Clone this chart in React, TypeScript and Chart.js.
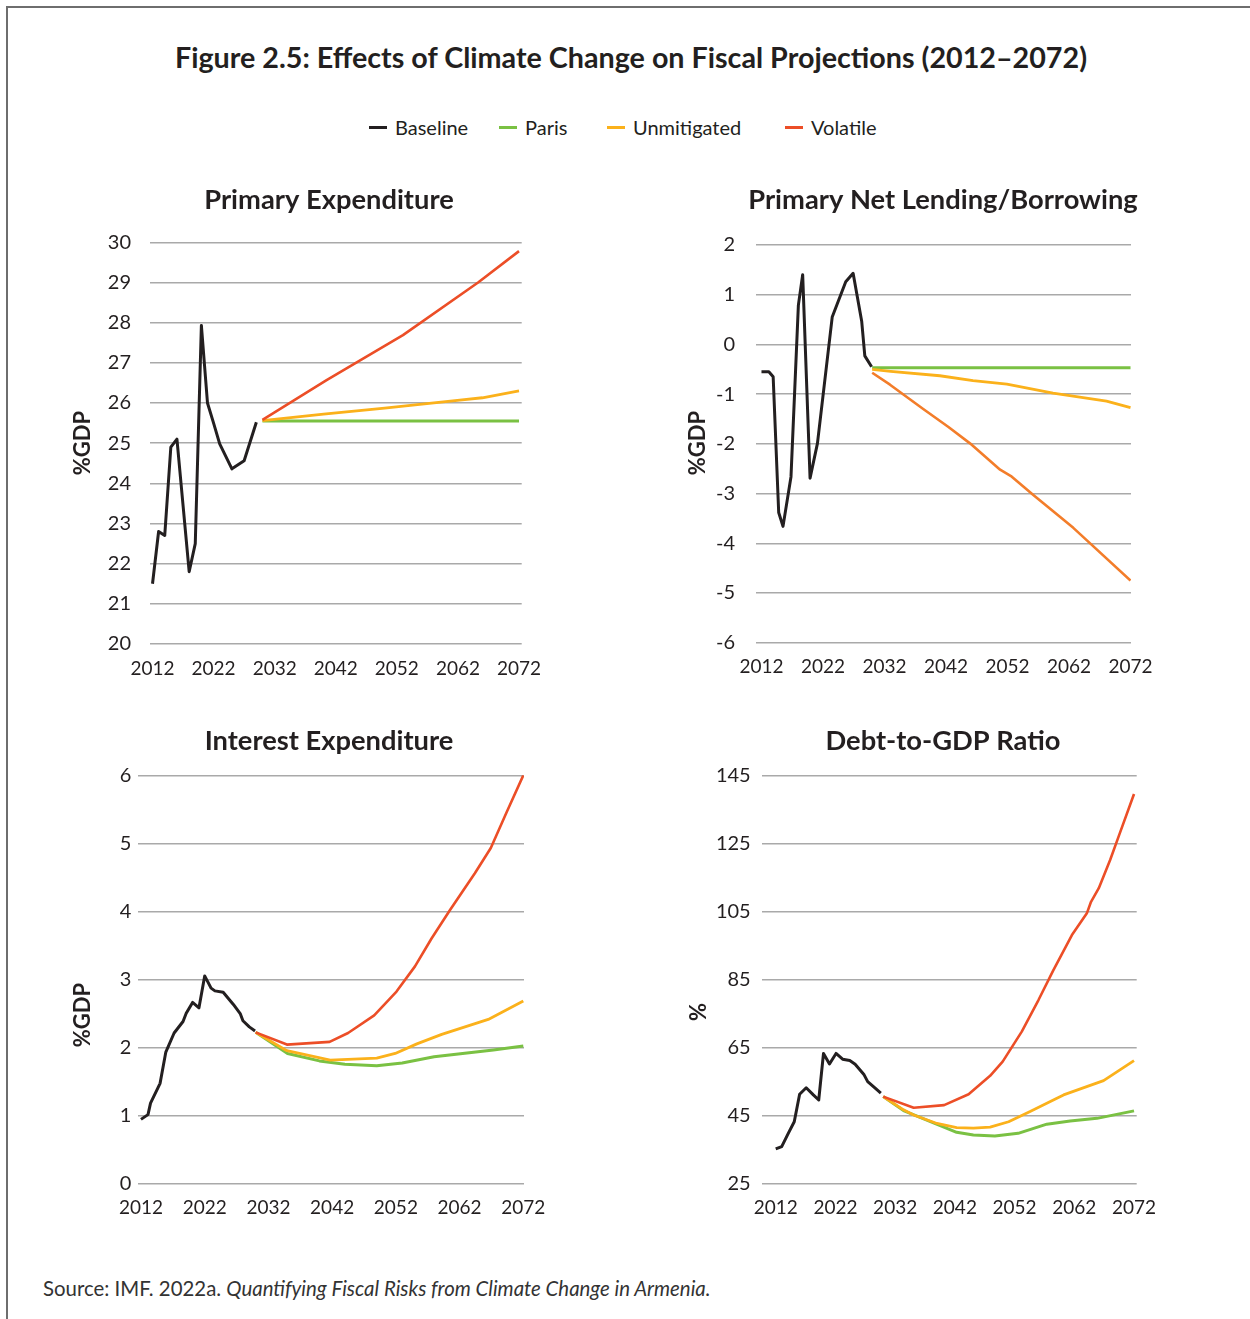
import { useEffect, useRef } from "react";
import { Chart, registerables } from "chart.js";

Chart.register(...registerables);

const FONT = "Lato, 'Open Sans', sans-serif";
const INK = "#231f20";
const GRID = "#a9a9a9";

const BLACK = "#231f20";
const GREEN = "#7ac143";
const YELLOW = "#fbb11b";
const RED = "#ec4e27";
const ORANGE = "#f37d2a";

const xTickYears = [2012, 2022, 2032, 2042, 2052, 2062, 2072];

// ---- Primary Expenditure (%GDP) ----
const peBaselineYears = [2012, 2013, 2014, 2015, 2016, 2017, 2018, 2019, 2020, 2021, 2022, 2023, 2024, 2025, 2026, 2027, 2028, 2029];
const peBaseline = [21.5, 22.8, 22.7, 24.9, 25.1, 23.45, 21.8, 22.5, 27.93, 26.0, 25.5, 24.98, 24.67, 24.36, 24.46, 24.56, 25.04, 25.52];
const peParisYears = [2030, 2072];
const peParis = [25.55, 25.55];
const peUnmitigatedYears = [2030, 2040, 2050, 2062.3, 2066, 2072];
const peUnmitigated = [25.56, 25.72, 25.87, 26.07, 26.13, 26.3];
const peVolatileYears = [2030, 2040.5, 2053, 2065.3, 2072];
const peVolatile = [25.58, 26.57, 27.69, 29.0, 29.78];

// ---- Primary Net Lending/Borrowing (%GDP) ----
const nlBaselineYears = [2012, 2013.2, 2013.9, 2014.8, 2015.5, 2016.8, 2018.0, 2018.7, 2019.9, 2021.1, 2023.5, 2025.7, 2026.9, 2028.3, 2028.8, 2029.9];
const nlBaseline = [-0.55, -0.55, -0.65, -3.38, -3.66, -2.66, 0.79, 1.4, -2.69, -1.99, 0.55, 1.26, 1.43, 0.46, -0.23, -0.45];
const nlParisYears = [2030, 2072];
const nlParis = [-0.47, -0.47];
const nlUnmitigatedYears = [2030, 2033, 2041, 2046.4, 2051.9, 2059.4, 2068.1, 2072];
const nlUnmitigated = [-0.5, -0.54, -0.63, -0.73, -0.8, -0.98, -1.14, -1.27];
const nlVolatileYears = [2030, 2032.9, 2038.3, 2042.4, 2045.9, 2050.8, 2052.7, 2056.2, 2062.7, 2072];
const nlVolatile = [-0.57, -0.81, -1.3, -1.66, -1.99, -2.52, -2.66, -3.03, -3.69, -4.75];

// ---- Interest Expenditure (%GDP) ----
const ieBaselineYears = [2012, 2013.1, 2013.5, 2015.0, 2015.9, 2017.2, 2018.6, 2019.1, 2020.1, 2021.1, 2022.0, 2023.0, 2023.6, 2024.9, 2026.5, 2027.6, 2028.0, 2029.0, 2029.9];
const ieBaseline = [0.94, 1.01, 1.18, 1.47, 1.93, 2.21, 2.38, 2.5, 2.66, 2.58, 3.05, 2.87, 2.83, 2.81, 2.63, 2.49, 2.39, 2.3, 2.24];
const ieParisYears = [2030, 2035, 2040, 2044, 2049, 2053, 2058, 2067.3, 2072];
const ieParis = [2.22, 1.91, 1.8, 1.75, 1.73, 1.77, 1.86, 1.96, 2.02];
const ieUnmitigatedYears = [2030, 2034.9, 2041.7, 2049, 2051.9, 2055.3, 2059.2, 2066.5, 2072];
const ieUnmitigated = [2.22, 1.95, 1.81, 1.84, 1.91, 2.05, 2.19, 2.41, 2.68];
const ieVolatileYears = [2030, 2034.9, 2041.6, 2044.5, 2048.6, 2052.1, 2055.0, 2057.6, 2060.5, 2064.4, 2066.9, 2069.4, 2072];
const ieVolatile = [2.22, 2.04, 2.08, 2.21, 2.47, 2.82, 3.19, 3.6, 4.02, 4.56, 4.93, 5.46, 6.0];

// ---- Debt-to-GDP Ratio (%) ----
const dgBaselineYears = [2012, 2013, 2014.1, 2015.1, 2016, 2017.1, 2018.3, 2019.2, 2020, 2021, 2022.1, 2023.2, 2024.4, 2025.3, 2026.8, 2027.4, 2028.7, 2029.6];
const dgBaseline = [35.1, 35.8, 39.7, 43.1, 51.2, 53.1, 51.0, 49.5, 63.2, 60.1, 63.2, 61.5, 61.1, 60.0, 56.9, 54.9, 52.9, 51.5];
const dgParisYears = [2030, 2033.4, 2037.3, 2042.3, 2045.1, 2048.7, 2052.6, 2057.4, 2061.3, 2065.8, 2072];
const dgParis = [50.5, 46.4, 43.6, 40.0, 39.2, 38.9, 39.7, 42.4, 43.3, 44.1, 46.3];
const dgUnmitigatedYears = [2030, 2033.4, 2035.1, 2039, 2042.3, 2045.1, 2047.9, 2051, 2054.6, 2057.9, 2060.2, 2066.9, 2072];
const dgUnmitigated = [50.5, 46.6, 45.1, 42.6, 41.4, 41.2, 41.5, 43.1, 46.1, 49.0, 51.0, 55.2, 61.1];
const dgVolatileYears = [2030, 2035.1, 2040.2, 2044.3, 2047.9, 2050, 2053.2, 2056, 2058.5, 2061.6, 2064.1, 2064.8, 2066.1, 2068, 2069.4, 2072];
const dgVolatile = [50.5, 47.2, 48.0, 51.2, 56.6, 60.8, 69.6, 78.9, 87.7, 98.0, 104.4, 107.8, 111.8, 120.1, 126.9, 139.5];

type Series = { label: string; years: number[]; values: number[]; color: string; width: number; order: number };
type Box = { left: number; top: number; width: number; height: number };
type Area = { left: number; right: number; top: number; bottom: number };
type PanelSpec = {
  title: string;
  yTitle: string;
  canvas: Box;
  area: Area;
  xMin: number;
  xMax: number;
  yMin: number;
  yMax: number;
  yStep: number;
  yTickPad: number;
  titleAt: [number, number];
  yTitleAt: [number, number];
  series: Series[];
};

const scenarios = (
  base: [number[], number[]],
  paris: [number[], number[]],
  unmit: [number[], number[]],
  vol: [number[], number[]],
  volColor: string
): Series[] => [
  { label: "Baseline", years: base[0], values: base[1], color: BLACK, width: 3, order: 0 },
  { label: "Paris", years: paris[0], values: paris[1], color: GREEN, width: 3, order: 3 },
  { label: "Unmitigated", years: unmit[0], values: unmit[1], color: YELLOW, width: 2.8, order: 2 },
  { label: "Volatile", years: vol[0], values: vol[1], color: volColor, width: 2.6, order: 1 },
];

const panels: PanelSpec[] = [
  {
    title: "Primary Expenditure",
    yTitle: "%GDP",
    canvas: { left: 40, top: 162, width: 530, height: 532 },
    area: { left: 150, right: 521.7, top: 242.3, bottom: 644 },
    xMin: 2011.59,
    xMax: 2072.44,
    yMin: 20,
    yMax: 30,
    yStep: 1,
    yTickPad: 19,
    titleAt: [329, 200],
    yTitleAt: [83, 443],
    series: scenarios([peBaselineYears, peBaseline], [peParisYears, peParis], [peUnmitigatedYears, peUnmitigated], [peVolatileYears, peVolatile], RED),
  },
  {
    title: "Primary Net Lending/Borrowing",
    yTitle: "%GDP",
    canvas: { left: 660, top: 165, width: 530, height: 528 },
    area: { left: 756, right: 1131, top: 245, bottom: 642.7 },
    xMin: 2011.11,
    xMax: 2072.08,
    yMin: -6,
    yMax: 2,
    yStep: 1,
    yTickPad: 21,
    titleAt: [943, 200],
    yTitleAt: [698, 443],
    series: scenarios([nlBaselineYears, nlBaseline], [nlParisYears, nlParis], [nlUnmitigatedYears, nlUnmitigated], [nlVolatileYears, nlVolatile], ORANGE),
  },
  {
    title: "Interest Expenditure",
    yTitle: "%GDP",
    canvas: { left: 40, top: 695, width: 530, height: 540 },
    area: { left: 138.3, right: 524, top: 775.3, bottom: 1183.3 },
    xMin: 2011.58,
    xMax: 2072.11,
    yMin: 0,
    yMax: 6,
    yStep: 1,
    yTickPad: 7,
    titleAt: [329, 741],
    yTitleAt: [83, 1015],
    series: scenarios([ieBaselineYears, ieBaseline], [ieParisYears, ieParis], [ieUnmitigatedYears, ieUnmitigated], [ieVolatileYears, ieVolatile], RED),
  },
  {
    title: "Debt-to-GDP Ratio",
    yTitle: "%",
    canvas: { left: 660, top: 695, width: 535, height: 540 },
    area: { left: 761.7, right: 1136.7, top: 775.3, bottom: 1183.3 },
    xMin: 2009.65,
    xMax: 2072.45,
    yMin: 25,
    yMax: 145,
    yStep: 20,
    yTickPad: 11,
    titleAt: [943, 741],
    yTitleAt: [699, 1012],
    series: scenarios([dgBaselineYears, dgBaseline], [dgParisYears, dgParis], [dgUnmitigatedYears, dgUnmitigated], [dgVolatileYears, dgVolatile], RED),
  },
];

const legendItems = [
  { label: "Baseline", color: BLACK, x: 369 },
  { label: "Paris", color: GREEN, x: 499 },
  { label: "Unmitigated", color: YELLOW, x: 607 },
  { label: "Volatile", color: RED, x: 785 },
];

// Draws the panel heading and the rotated y-axis caption.
const panelTextPlugin = {
  id: "panelText",
  afterDraw(chart: any, _args: any, opts: any) {
    const ctx: CanvasRenderingContext2D = chart.ctx;
    ctx.save();
    ctx.fillStyle = INK;
    ctx.textAlign = "center";
    ctx.textBaseline = "middle";
    ctx.font = `bold 27.3px ${FONT}`;
    ctx.fillText(opts.title, opts.titleX, opts.titleY);
    ctx.translate(opts.yTitleX, opts.yTitleY);
    ctx.rotate(-Math.PI / 2);
    ctx.font = `bold 22px ${FONT}`;
    ctx.fillText(opts.yTitle, 0, 0);
    ctx.restore();
  },
};

function Panel({ spec }: { spec: PanelSpec }) {
  const ref = useRef<HTMLCanvasElement>(null);
  const c = spec.canvas;

  useEffect(() => {
    const a = spec.area;
    const chart = new Chart(ref.current as HTMLCanvasElement, {
      type: "line",
      data: {
        datasets: spec.series.map((s) => ({
          label: s.label,
          data: s.years.map((yr, i) => ({ x: yr, y: s.values[i] })),
          borderColor: s.color,
          backgroundColor: s.color,
          borderWidth: s.width,
          pointRadius: 0,
          tension: 0,
          fill: false,
          order: s.order,
          borderJoinStyle: "round" as const,
        })),
      },
      options: {
        responsive: false,
        animation: false,
        events: [],
        layout: {
          padding: { left: 0, top: a.top - c.top, right: c.left + c.width - a.right, bottom: 0 },
        },
        plugins: {
          legend: { display: false },
          title: { display: false },
          tooltip: { enabled: false },
          panelText: {
            title: spec.title,
            titleX: spec.titleAt[0] - c.left,
            titleY: spec.titleAt[1] - c.top,
            yTitle: spec.yTitle,
            yTitleX: spec.yTitleAt[0] - c.left,
            yTitleY: spec.yTitleAt[1] - c.top,
          },
        } as any,
        scales: {
          x: {
            type: "linear",
            min: spec.xMin,
            max: spec.xMax,
            grid: { display: false, drawTicks: false },
            border: { display: false },
            afterBuildTicks: (axis: any) => {
              axis.ticks = xTickYears.map((v) => ({ value: v }));
            },
            afterFit: (axis: any) => {
              axis.height = c.top + c.height - a.bottom;
            },
            ticks: {
              autoSkip: false,
              maxRotation: 0,
              padding: 13,
              color: INK,
              font: { family: FONT, size: 19 },
              callback: (v: any) => String(v),
            },
          },
          y: {
            type: "linear",
            min: spec.yMin,
            max: spec.yMax,
            grid: { color: GRID, lineWidth: 1.5, drawTicks: false },
            border: { display: false },
            afterFit: (axis: any) => {
              axis.width = a.left - c.left;
            },
            ticks: {
              stepSize: spec.yStep,
              padding: spec.yTickPad,
              color: INK,
              font: { family: FONT, size: 20 },
              callback: (v: any) => String(v),
            },
          },
        },
      },
      plugins: [panelTextPlugin],
    });
    return () => chart.destroy();
  }, [spec]);

  return (
    <canvas
      ref={ref}
      width={c.width}
      height={c.height}
      style={{ position: "absolute", left: c.left, top: c.top, width: c.width, height: c.height }}
    />
  );
}

export default function App() {
  return (
    <div
      style={{
        position: "absolute",
        left: 0,
        top: 0,
        width: 1250,
        height: 1319,
        overflow: "hidden",
        background: "#ffffff",
        fontFamily: FONT,
        color: INK,
      }}
    >
      <div
        style={{
          position: "absolute",
          left: 6,
          top: 6,
          right: -4,
          bottom: -4,
          borderTop: "2px solid #6e6e6e",
          borderLeft: "2px solid #6e6e6e",
        }}
      />
      <div
        style={{
          position: "absolute",
          left: 31,
          width: 1200,
          top: 40,
          lineHeight: "34px",
          fontSize: 28.7,
          fontWeight: 700,
          textAlign: "center",
          whiteSpace: "nowrap",
        }}
      >
        Figure 2.5: Effects of Climate Change on Fiscal Projections (2012–2072)
      </div>
      {legendItems.map((it) => (
        <div key={it.label}>
          <div
            style={{ position: "absolute", left: it.x, top: 126, width: 18, height: 3, background: it.color }}
          />
          <div
            style={{
              position: "absolute",
              left: it.x + 26,
              top: 115,
              lineHeight: "24px",
              fontSize: 20,
              whiteSpace: "nowrap",
            }}
          >
            {it.label}
          </div>
        </div>
      ))}
      {panels.map((p) => (
        <Panel key={p.title} spec={p} />
      ))}
      <div
        style={{
          position: "absolute",
          left: 43,
          top: 1276,
          lineHeight: "24px",
          fontSize: 20.4,
          whiteSpace: "nowrap",
          color: "#333333",
        }}
      >
        Source: IMF. 2022a. <i>Quantifying Fiscal Risks from Climate Change in Armenia.</i>
      </div>
    </div>
  );
}
